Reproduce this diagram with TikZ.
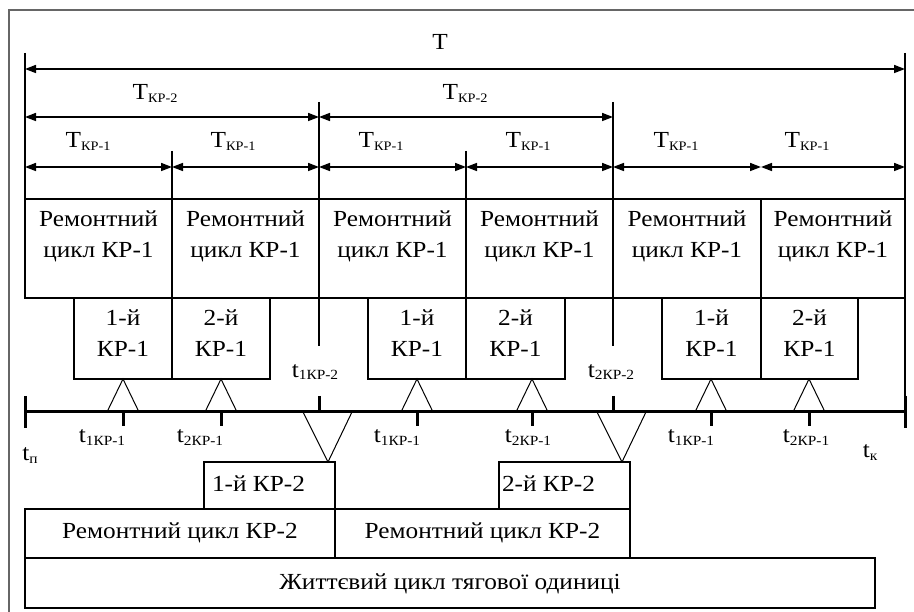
\documentclass[tikz,border=0pt]{standalone}
\usepackage{fontspec}
\setmainfont{Liberation Serif}[FakeStretch=1.1]
\usetikzlibrary{arrows.meta}
\newcommand{\Tsb}[1]{\raisebox{-2.5pt}{\fontsize{13}{14}\selectfont #1}}
\newcommand{\tsb}[1]{\raisebox{-2pt}{\fontsize{14}{15}\selectfont #1}}
\begin{document}
\begin{tikzpicture}[x=1pt,y=-1pt,
  every node/.style={inner sep=0pt, outer sep=0pt},
  box/.style={draw, line width=1.4pt, anchor=north west},
  dimline/.style={line width=1.6pt, {Triangle[length=11pt,width=8pt]}-{Triangle[length=11pt,width=8pt]}},
  guide/.style={line width=1.3pt},
  axisline/.style={line width=3pt},
  tickmark/.style={line width=3pt},
  tri/.style={line width=1pt, line join=miter},
  lab/.style={anchor=base, font=\fontsize{23}{31}\selectfont},
  frameline/.style={draw=black!60, line width=1.4pt},
]
\useasboundingbox (0,0) rectangle (914,612);
\draw[frameline] (9,612) -- (9,10) -- (914,10);

% dimension coordinates
\foreach \n/\x in {0/25,1/172,2/319,3/466,4/613,5/761,6/905}{
  \coordinate (a\n) at (\x,69);
  \coordinate (b\n) at (\x,117);
  \coordinate (c\n) at (\x,167);
}
\draw[dimline] (a0) -- (a6);
\draw[dimline] (b0) -- (b2);
\draw[dimline] (b2) -- (b4);
\foreach \i/\j in {0/1,1/2,2/3,3/4,4/5,5/6}{\draw[dimline] (c\i) -- (c\j);}

\node[lab] (lT) at (440,50) {T};
\node[lab] (lT2a) at (155,100) {T\Tsb{КР-2}};
\node[lab] (lT2b) at (465,100) {T\Tsb{КР-2}};
\foreach \x [count=\k] in {88,233,381,528,676,807}{
  \node[lab] (lT1\k) at (\x,148) {T\Tsb{КР-1}};
}

% top row boxes
\foreach \x/\w [count=\k] in {25/147,172/147,319/147,466/147,613/148,761/144}{
  \node[box, minimum height=99pt, minimum width=\w pt] (r\k) at (\x,199) {};
  \node[lab, align=center] (rt\k) at (\x+0.5*\w,258) {Ремонтний\\цикл КР-1};
}

% guide lines
\draw[guide] (25,53) -- (r1.north west);
\draw[guide] (905,53) -- (905,428);
\draw[guide] (319,102) -- (r3.north west);
\draw[guide] (613,102) -- (r5.north west);
\draw[guide] (172,151) -- (r2.north west);
\draw[guide] (466,151) -- (r4.north west);
\draw[guide] (319,298) -- (319,346);
\draw[guide] (613,298) -- (613,346);

% second row boxes
\foreach \x/\w/\t [count=\k] in {74/98/1-й,172/98/2-й,368/98/1-й,466/99/2-й,662/99/1-й,761/97/2-й}{
  \node[box, minimum height=81pt, minimum width=\w pt] (s\k) at (\x,298) {};
  \node[lab, align=center] (st\k) at (\x+0.5*\w,357) {\t\\КР-1};
}

% axis
\coordinate (ax0) at (25,412);
\coordinate (ax1) at (905,412);
\draw[axisline] (ax0) -- (ax1);
\draw[tickmark] (25,396) -- (25,428);
\draw[tickmark] (905,396) -- (905,428);
\draw[tickmark] (319,396) -- (319,412);
\draw[tickmark] (613,396) -- (613,412);

% up triangles and ticks
\foreach \x [count=\k] in {123,221,417,532,711,809}{
  \coordinate (u\k) at (\x,379);
  \draw[tri] (\x-16,412) -- (u\k) -- (\x+16,412);
  \draw[tickmark] (\x,412) -- (\x,426);
}
% labels below axis
\node[lab] (tl1) at (102,443) {t\tsb{1КР-1}};
\node[lab] (tl2) at (200,443) {t\tsb{2КР-1}};
\node[lab] (tl3) at (397,443) {t\tsb{1КР-1}};
\node[lab] (tl4) at (528,443) {t\tsb{2КР-1}};
\node[lab] (tl5) at (691,443) {t\tsb{1КР-1}};
\node[lab] (tl6) at (806,443) {t\tsb{2КР-1}};
\node[lab] (tp) at (30,461) {t\tsb{п}};
\node[lab] (tk) at (870,458) {t\tsb{к}};
\node[lab] (tm1) at (315,378) {t\tsb{1КР-2}};
\node[lab] (tm2) at (611,378) {t\tsb{2КР-2}};

% bottom boxes
\node[box, minimum height=47pt, minimum width=131pt] (k1) at (204,462) {};
\node[lab, anchor=base west] at (212,492) {1-й КР-2};
\node[box, minimum height=47pt, minimum width=131pt] (k2) at (499,462) {};
\node[lab, anchor=base west] at (502,492) {2-й КР-2};
\draw[tri] (303,412) -- (k1.north east -| 328,0) -- (352,412);
\draw[tri] (597,412) -- (k2.north east -| 622,0) -- (646,412);

\node[box, minimum height=49pt, minimum width=310pt] (q1) at (25,509) {};
\node[lab] at (q1.center |- 0,539) {Ремонтний цикл КР-2};
\node[box, minimum height=49pt, minimum width=295pt] (q2) at (335,509) {};
\node[lab] at (q2.center |- 0,539) {Ремонтний цикл КР-2};

\node[box, minimum height=50pt, minimum width=850pt] (life) at (25,558) {};
\node[lab] at (450,589) {Життєвий цикл тягової одиниці};
\end{tikzpicture}
\end{document}
